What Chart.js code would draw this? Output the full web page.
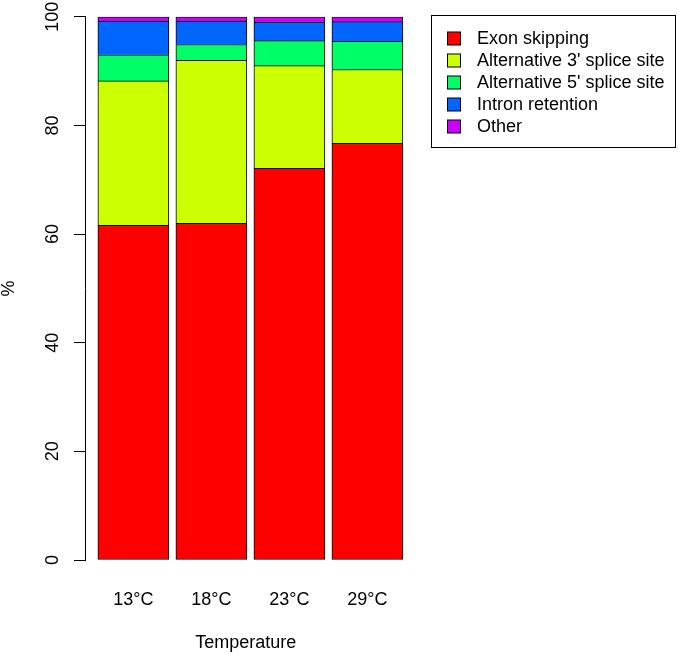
<!DOCTYPE html>
<html>
<head>
<meta charset="utf-8">
<script src="https://cdn.jsdelivr.net/npm/chart.js@4.4.0/dist/chart.umd.min.js"></script>
<style>
  html, body { margin: 0; padding: 0; background: #fff; }
</style>
</head>
<body>
<canvas id="chart" width="679" height="655"></canvas>
<script>
// values (% of events per temperature)
const temperatures = ['13°C', '18°C', '23°C', '29°C'];
const exonSkipping = [61.6, 62.0, 72.1, 76.7];
const alt3Splice = [26.6, 30.0, 18.9, 13.6];
const alt5Splice = [4.8, 2.9, 4.6, 5.2];
const intronRetention = [6.2, 4.3, 3.4, 3.6];
const other = [0.8, 0.8, 1.0, 0.9];
const yTicks = [0, 20, 40, 60, 80, 100];

const seriesNames = ['Exon skipping', "Alternative 3' splice site", "Alternative 5' splice site", 'Intron retention', 'Other'];
const seriesValues = [exonSkipping, alt3Splice, alt5Splice, intronRetention, other];
const seriesColors = ['#FF0000', '#CCFF00', '#00FF66', '#0066FF', '#CC00FF'];

const FONT = "'Liberation Sans', Arial, sans-serif";

// legend box in the right margin, like R's legend()
const boxLegend = {
    id: 'boxLegend',
    afterDraw(chart) {
        const ctx = chart.ctx;
        ctx.save();
        ctx.lineWidth = 1;
        ctx.strokeStyle = '#000';
        ctx.strokeRect(431.5, 15.5, 244, 132);
        ctx.font = '18px ' + FONT;
        ctx.textBaseline = 'middle';
        chart.data.datasets.forEach(function(ds, i) {
            const cy = 38.5 + i * 22;
            ctx.fillStyle = ds.backgroundColor;
            ctx.fillRect(447.5, cy - 6.5, 13, 13);
            ctx.strokeRect(447.5, cy - 6.5, 13, 13);
            ctx.fillStyle = '#000';
            ctx.fillText(ds.label, 477, cy + 1);
        });
        ctx.restore();
    }
};

new Chart(document.getElementById('chart'), {
    type: 'bar',
    data: {
        datasets: seriesValues.map(function(vals, i) {
            return {
                label: seriesNames[i],
                data: vals.map(function(v, j) { return { x: j, y: v }; }),
                backgroundColor: seriesColors[i],
                borderColor: '#000',
                borderWidth: 1,
                borderSkipped: i === 0 ? false : 'start',
                barThickness: 71
            };
        })
    },
    options: {
        responsive: false,
        animation: false,
        devicePixelRatio: 1,
        layout: { padding: { top: 16, right: 272.6, left: 0, bottom: 0 } },
        plugins: { legend: { display: false }, tooltip: { enabled: false } },
        scales: {
            x: {
                type: 'linear',
                stacked: true,
                offset: false,
                min: -0.62,
                max: 3.5,
                afterBuildTicks: function(scale) {
                    scale.ticks = temperatures.map(function(t, i) { return { value: i }; });
                },
                grid: { display: false, drawTicks: false, offset: false },
                border: { display: false },
                ticks: {
                    callback: function(v) { return temperatures[v]; },
                    color: '#000',
                    font: { family: FONT, size: 18 },
                    padding: 29.2,
                    maxRotation: 0
                },
                title: {
                    display: true,
                    text: 'Temperature',
                    color: '#000',
                    font: { family: FONT, size: 18 },
                    padding: { top: -7.8, bottom: 1.2 }
                }
            },
            y: {
                stacked: true,
                min: 0,
                max: 100,
                afterBuildTicks: function(scale) {
                    scale.ticks = yTicks.map(function(v) { return { value: v }; });
                },
                grid: { drawOnChartArea: false, color: '#000', tickLength: 11, tickWidth: 1 },
                border: { display: true, color: '#000', width: 1 },
                ticks: {
                    color: '#000',
                    font: { family: FONT, size: 18 },
                    minRotation: 90,
                    maxRotation: 90,
                    crossAlign: 'center',
                    padding: 6
                },
                title: {
                    display: true,
                    text: '%',
                    color: '#000',
                    font: { family: FONT, size: 18 },
                    padding: { top: -2, bottom: 20.8 }
                }
            }
        }
    },
    plugins: [boxLegend]
});
</script>
</body>
</html>
